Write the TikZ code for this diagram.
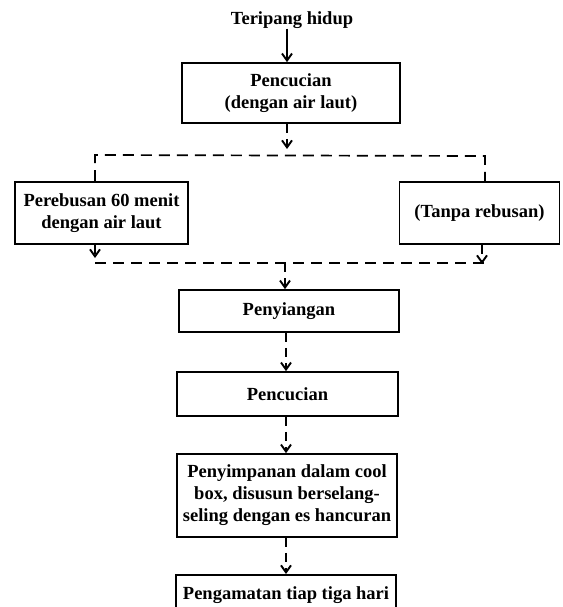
\documentclass[tikz,border=0pt]{standalone}
\usepackage{fontspec}
\setmainfont{Liberation Serif}
\usetikzlibrary{arrows.meta}
\begin{document}
\begin{tikzpicture}[x=1pt,y=-1pt,
  box/.style={draw, line width=1.7pt, inner sep=0pt, align=center,
    font=\bfseries\fontsize{18.5}{22}\selectfont},
  lbl/.style={inner sep=0pt, font=\bfseries\fontsize{18.5}{22}\selectfont},
  tip/.style={-{Straight Barb[length=7pt,width=10pt,line width=1.9pt]}},
  sarr/.style={line width=2.2pt, tip},
  dline/.style={line width=1.7pt, dash pattern=on 11pt off 7pt},
  darr/.style={line width=1.7pt, dash pattern=on 9pt off 6pt, tip}]
\useasboundingbox (0,0) rectangle (562,607);
\fill[white] (0,0) rectangle (562,607);

\node[lbl] (t) at (292,20) {Teripang hidup};
\node[box, minimum width=218pt, minimum height=60pt] (b1) at (291,93)
  {Pencucian\\(dengan air laut)};
\node[box, minimum width=173pt, minimum height=62pt] (bl) at (101.5,213)
  {Perebusan 60 menit\\dengan air laut};
\node[box, minimum width=160pt, minimum height=62pt] (br) at (479.5,213)
  {(Tanpa rebusan)};
\node[box, minimum width=220pt, minimum height=42pt] (b3) at (289,311)
  {Penyiangan};
\node[box, minimum width=221pt, minimum height=44pt] (b4) at (287.5,394)
  {Pencucian};
\node[box, minimum width=220pt, minimum height=83pt] (b5) at (287,495.5)
  {Penyimpanan dalam cool\\box, disusun berselang-\\seling dengan es hancuran};
\node[box, minimum width=220pt, minimum height=40pt, anchor=north] (b6) at (286,574)
  {Pengamatan tiap tiga hari};

% coordinates
\coordinate (s1) at (287,149);
\coordinate (tl) at (95,155);
\coordinate (tr) at (485,156);
\coordinate (al) at (95,258);
\coordinate (ar) at (482,264);
\coordinate (bl0) at (95,263);
\coordinate (br0) at (484,263);
\coordinate (m) at (285,263);

% connectors
\draw[sarr] (t.south -| 287,0) -- (b1.north -| 287,0);
\draw[darr] (b1.south -| s1) -- (s1);
\draw[dline] (bl.north -| tl) -- (tl) -- (tr) -- (br.north -| tr);
\draw[darr] (bl.south -| al) -- (al);
\draw[darr] (br.south -| ar) -- (ar);
\draw[dline] (bl0) -- (br0);
\draw[darr] (m) -- (b3.north -| m);
\draw[darr] (b3.south -| 286,0) -- (b4.north -| 286,0);
\draw[darr] (b4.south -| 286,0) -- (b5.north -| 286,0);
\draw[darr] (b5.south -| 286,0) -- (b6.north -| 286,0);
\end{tikzpicture}
\end{document}
